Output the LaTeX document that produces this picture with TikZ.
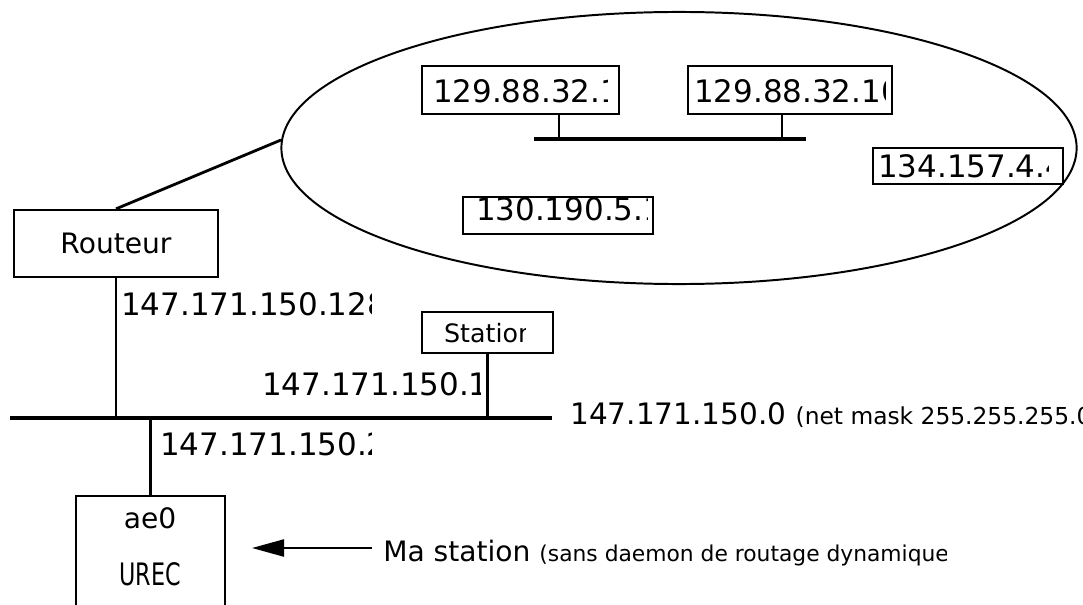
\documentclass[tikz,border=0pt]{standalone}
\usepackage{fontspec}
\setmainfont{DejaVu Sans}
\usepackage{graphicx}
\usetikzlibrary{fit,calc,shapes.geometric,arrows.meta}

\newcommand\bigf{\fontsize{22}{26}\selectfont}
\newcommand\midf{\fontsize{18}{21}\selectfont}
\newcommand\notef{\fontsize{15.5}{18}\selectfont}

\tikzset{
  box/.style={draw, line width=1.6pt, inner sep=0pt},
  wire/.style={line width=1.6pt},
  bus/.style={line width=3.4pt},
  lan/.style={line width=2.8pt},
  cliptext/.style n args={4}{path picture={
      \clip (path picture bounding box.north west) rectangle
            ($(path picture bounding box.south west)+(#3*0.025cm,0)$);
      \node[anchor=base west, inner sep=0pt, text width=, text height=, text depth=]
        at ($(path picture bounding box.north west)+(#1*0.025cm,-#2*0.025cm)$) {\mbox{#4}};}},
}

\begin{document}
\begin{tikzpicture}[x=0.025cm, y=-0.025cm]
    \useasboundingbox (0,0) rectangle (1083,604);
    \clip (0,0) rectangle (1083,604);

    % reseau distant
    \node[draw, ellipse, line width=1.4pt, inner sep=0pt,
          minimum width=19.875cm, minimum height=6.8cm] (cloud) at (679,148) {};

    \node[box, fit={(422,66)(619,114)}, cliptext={10}{36}{185}{\bigf 129.88.32.1}] (h1) {};
    \node[box, fit={(688,66)(892,114)}, cliptext={5}{36}{197}{\bigf 129.88.32.10}] (h2) {};
    \node[box, fit={(873,148)(1063,184)}, cliptext={4}{29}{175}{\bigf 134.157.4.4}] (h3) {};
    \node[box, fit={(463,197)(653,234)}, cliptext={12}{23}{184}{\bigf 130.190.5.1}] (h4) {};

    \coordinate (lanL) at (534,139);
    \coordinate (lanR) at (806,139);
    \coordinate (t1) at (559,139);
    \coordinate (t2) at (782,139);
    \draw[lan] (lanL) -- (lanR);
    \draw[wire] (t1 |- h1.south) -- (t1);
    \draw[wire] (t2 |- h2.south) -- (t2);

    % routeur
    \node[box, minimum width=5.1cm, minimum height=1.675cm, font=\fontsize{20}{24}\selectfont]
          (routeur) at (116,243.5) {Routeur};
    \coordinate (entry) at (281,140);
    \draw[line width=2pt] (routeur.north) -- (entry);

    % reseau local
    \coordinate (busL) at (10,418);
    \coordinate (busR) at (552,418);
    \draw[bus] (busL) -- (busR);
    \node[anchor=base west, inner sep=0pt] (netlbl) at (570,424)
          {\fontsize{21}{25}\selectfont 147.171.150.0
           {\fontsize{16.6}{19}\selectfont (net mask 255.255.255.0)}};

    \draw[wire] (routeur.south) -- (routeur.south |- busL);
    \node[fit={(121,286)(371,322)}, inner sep=0pt,
          cliptext={0}{29}{250}{\bigf 147.171.150.128}] (ip128) {};

    \node[box, fit={(422,312)(553,353)}, cliptext={21}{30}{103}{\midf Station}] (station) {};
    \draw[wire] (station.south) -- (station.south |- busL);
    \node[fit={(262,368)(480,404)}, inner sep=0pt,
          cliptext={0}{27}{218}{\bigf 147.171.150.1}] (ip1) {};

    % ma station
    \node[box, fit={(76,496)(225,625)}] (urec) {};
    \draw[wire] (urec.north) -- (urec.north |- busL);
    \node[fit={(160,428)(371,464)}, inner sep=0pt,
          cliptext={0}{27}{211}{\bigf 147.171.150.2}] (ip2) {};
    \node[anchor=base, inner sep=0pt, font=\fontsize{20}{24}\selectfont] (ifname) at (150,528) {ae0};
    \node[anchor=base, inner sep=0pt, font=\fontsize{22}{26}\selectfont] (host) at (150,585)
          {\scalebox{0.72}[1]{UREC}};

    \coordinate (tail) at (372,548);
    \coordinate (tip) at (252,548);
    \draw[wire, -{Triangle[length=0.8cm, width=0.425cm]}] (tail) -- (tip);
    \node[fit={(383,528)(946,575)}, inner sep=0pt,
          cliptext={0}{33}{563}{\fontsize{20}{24}\selectfont Ma station
                           {\notef (sans daemon de routage dynamique)}}] (msg) {};

\end{tikzpicture}
\end{document}
